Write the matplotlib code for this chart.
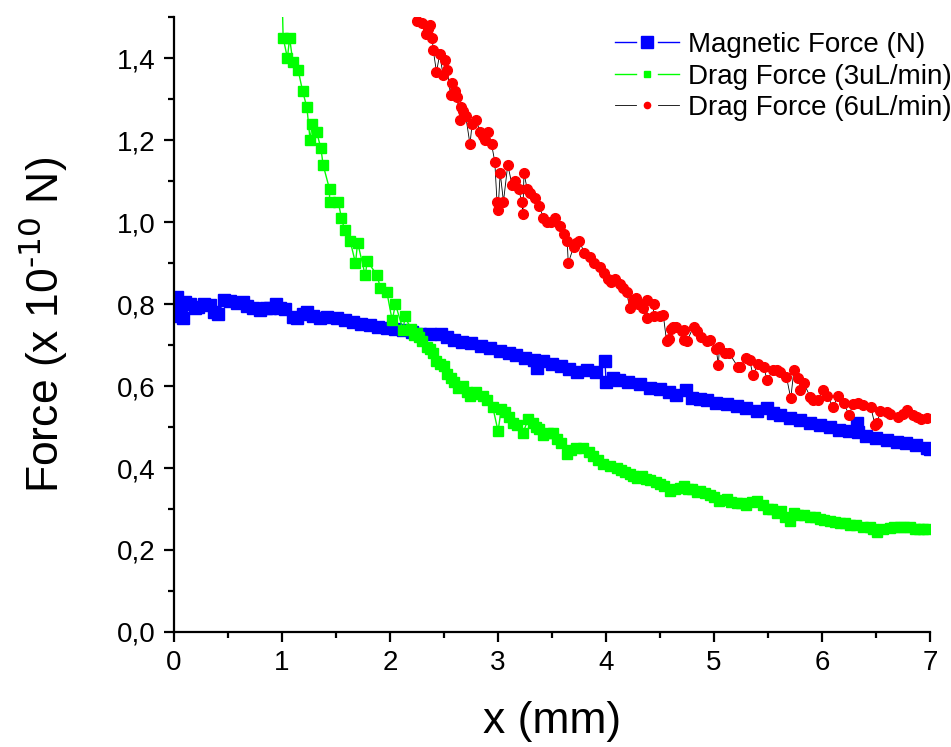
import numpy as np
import matplotlib
matplotlib.use("Agg")
import matplotlib.pyplot as plt
from matplotlib.lines import Line2D
from matplotlib.legend_handler import HandlerLine2D
from matplotlib.ticker import MultipleLocator, FuncFormatter

plt.rcParams['font.family'] = ['Liberation Sans', 'DejaVu Sans']
plt.rcParams['mathtext.default'] = 'regular'

# ----------------------------------------------
# Data
# ----------------------------------------------

x_mag = [0.00, 0.03, 0.05, 0.06, 0.08, 0.10, 0.15, 0.19, 0.22, 0.28, 0.33, 0.37,
         0.41, 0.46, 0.52, 0.58, 0.64, 0.68, 0.73, 0.80, 0.85, 0.89, 0.94, 0.98,
         1.03, 1.10, 1.14, 1.19, 1.23, 1.29, 1.35, 1.42, 1.51, 1.58, 1.66, 1.73,
         1.81, 1.89, 1.97, 2.05, 2.12, 2.20, 2.28, 2.37, 2.47, 2.53, 2.59, 2.67,
         2.75, 2.84, 2.93, 3.02, 3.10, 3.17, 3.25, 3.33, 3.36, 3.42, 3.50, 3.58,
         3.66, 3.73, 3.82, 3.91, 3.99, 4.00, 4.06, 4.12, 4.20, 4.31, 4.41, 4.50,
         4.58, 4.65, 4.74, 4.80, 4.87, 4.93, 5.02, 5.12, 5.21, 5.30, 5.40, 5.49,
         5.55, 5.61, 5.70, 5.80, 5.89, 5.98, 6.07, 6.16, 6.25, 6.32, 6.33, 6.41,
         6.50, 6.60, 6.69, 6.78, 6.87, 6.97, 7.00]
f_mag = [0.800, 0.817, 0.770, 0.798, 0.765, 0.805, 0.800, 0.790, 0.793, 0.800, 0.797, 0.781,
         0.775, 0.810, 0.808, 0.802, 0.805, 0.795, 0.790, 0.785, 0.790, 0.790, 0.800, 0.790,
         0.787, 0.769, 0.765, 0.775, 0.780, 0.772, 0.765, 0.768, 0.765, 0.760, 0.757, 0.752,
         0.749, 0.745, 0.741, 0.738, 0.737, 0.732, 0.728, 0.726, 0.728, 0.720, 0.712, 0.708,
         0.704, 0.698, 0.692, 0.686, 0.680, 0.675, 0.668, 0.664, 0.645, 0.660, 0.655, 0.650,
         0.642, 0.635, 0.638, 0.635, 0.660, 0.610, 0.620, 0.615, 0.610, 0.605, 0.595, 0.592,
         0.585, 0.578, 0.590, 0.572, 0.568, 0.565, 0.558, 0.555, 0.551, 0.547, 0.540, 0.546,
         0.535, 0.530, 0.523, 0.517, 0.510, 0.505, 0.500, 0.493, 0.490, 0.509, 0.487, 0.477,
         0.473, 0.468, 0.464, 0.460, 0.455, 0.448, 0.447]

x_drag3 = [0.99, 1.01, 1.05, 1.07, 1.10, 1.15, 1.19, 1.23, 1.26, 1.28, 1.32, 1.36,
           1.38, 1.44, 1.44, 1.52, 1.55, 1.58, 1.63, 1.68, 1.70, 1.77, 1.79, 1.88,
           1.91, 1.97, 2.02, 2.05, 2.12, 2.14, 2.19, 2.22, 2.25, 2.27, 2.30, 2.34,
           2.37, 2.40, 2.43, 2.46, 2.50, 2.53, 2.56, 2.59, 2.63, 2.68, 2.71, 2.74,
           2.77, 2.80, 2.86, 2.90, 2.95, 3.00, 3.03, 3.06, 3.10, 3.14, 3.18, 3.23,
           3.28, 3.32, 3.35, 3.38, 3.42, 3.46, 3.51, 3.55, 3.58, 3.64, 3.68, 3.72,
           3.79, 3.84, 3.88, 3.93, 3.97, 4.04, 4.10, 4.14, 4.18, 4.22, 4.25, 4.29,
           4.33, 4.37, 4.41, 4.46, 4.50, 4.54, 4.59, 4.64, 4.68, 4.72, 4.76, 4.80,
           4.84, 4.87, 4.92, 4.96, 5.00, 5.05, 5.08, 5.12, 5.16, 5.21, 5.25, 5.30,
           5.35, 5.40, 5.45, 5.50, 5.54, 5.58, 5.62, 5.66, 5.70, 5.74, 5.78, 5.83,
           5.89, 5.93, 5.98, 6.02, 6.07, 6.12, 6.17, 6.21, 6.26, 6.31, 6.38, 6.44,
           6.47, 6.51, 6.56, 6.63, 6.67, 6.72, 6.76, 6.81, 6.86, 6.90, 6.93, 6.97]
f_drag3 = [1.68, 1.45, 1.40, 1.45, 1.39, 1.37, 1.32, 1.28, 1.20, 1.24, 1.22, 1.18,
           1.14, 1.08, 1.05, 1.05, 1.01, 0.98, 0.955, 0.90, 0.95, 0.87, 0.905, 0.87,
           0.84, 0.83, 0.76, 0.80, 0.737, 0.77, 0.74, 0.725, 0.73, 0.72, 0.71, 0.695,
           0.69, 0.68, 0.66, 0.655, 0.65, 0.63, 0.62, 0.61, 0.595, 0.60, 0.585, 0.575,
           0.58, 0.585, 0.575, 0.565, 0.55, 0.49, 0.545, 0.537, 0.525, 0.51, 0.505, 0.485,
           0.52, 0.51, 0.50, 0.495, 0.48, 0.485, 0.485, 0.47, 0.46, 0.435, 0.445, 0.45,
           0.45, 0.44, 0.43, 0.42, 0.41, 0.405, 0.40, 0.395, 0.39, 0.385, 0.38, 0.375,
           0.38, 0.372, 0.37, 0.365, 0.36, 0.355, 0.345, 0.35, 0.352, 0.355, 0.35, 0.35,
           0.342, 0.345, 0.34, 0.335, 0.33, 0.32, 0.322, 0.325, 0.318, 0.315, 0.315, 0.31,
           0.318, 0.32, 0.31, 0.30, 0.30, 0.29, 0.295, 0.28, 0.27, 0.29, 0.285, 0.285,
           0.28, 0.28, 0.275, 0.272, 0.27, 0.268, 0.265, 0.265, 0.26, 0.26, 0.255, 0.255,
           0.25, 0.245, 0.252, 0.253, 0.255, 0.255, 0.256, 0.257, 0.252, 0.25, 0.25, 0.25]

x_drag6 = [2.25, 2.30, 2.33, 2.35, 2.37, 2.39, 2.40, 2.43, 2.46, 2.49, 2.51, 2.53,
           2.56, 2.57, 2.60, 2.62, 2.65, 2.66, 2.68, 2.70, 2.74, 2.76, 2.80, 2.83,
           2.86, 2.88, 2.91, 2.94, 2.97, 2.99, 3.00, 3.02, 3.05, 3.09, 3.13, 3.16,
           3.19, 3.22, 3.23, 3.24, 3.27, 3.30, 3.34, 3.38, 3.42, 3.45, 3.49, 3.53,
           3.57, 3.61, 3.64, 3.65, 3.70, 3.72, 3.75, 3.80, 3.85, 3.89, 3.94, 3.98,
           4.02, 4.05, 4.08, 4.13, 4.16, 4.19, 4.22, 4.25, 4.28, 4.30, 4.34, 4.38,
           4.38, 4.44, 4.44, 4.50, 4.53, 4.56, 4.58, 4.60, 4.62, 4.65, 4.70, 4.72,
           4.72, 4.75, 4.81, 4.84, 4.88, 4.93, 4.96, 5.02, 5.04, 5.05, 5.10, 5.14,
           5.22, 5.24, 5.30, 5.33, 5.36, 5.41, 5.46, 5.49, 5.55, 5.58, 5.61, 5.67,
           5.71, 5.74, 5.78, 5.80, 5.83, 5.89, 5.92, 5.96, 6.01, 6.05, 6.10, 6.15,
           6.20, 6.25, 6.29, 6.33, 6.38, 6.45, 6.49, 6.51, 6.54, 6.60, 6.63, 6.70,
           6.75, 6.79, 6.84, 6.88, 6.92, 6.97]
f_drag6 = [1.49, 1.485, 1.46, 1.47, 1.48, 1.45, 1.42, 1.366, 1.41, 1.36, 1.395, 1.37,
           1.31, 1.34, 1.32, 1.305, 1.25, 1.28, 1.27, 1.26, 1.19, 1.24, 1.25, 1.22,
           1.21, 1.20, 1.22, 1.19, 1.147, 1.05, 1.03, 1.12, 1.05, 1.14, 1.09, 1.10,
           1.08, 1.05, 1.02, 1.12, 1.08, 1.07, 1.06, 1.04, 1.01, 1.00, 1.00, 1.01,
           0.99, 0.97, 0.955, 0.90, 0.94, 0.95, 0.955, 0.925, 0.915, 0.90, 0.89, 0.875,
           0.86, 0.855, 0.86, 0.85, 0.84, 0.83, 0.79, 0.81, 0.815, 0.80, 0.79, 0.766,
           0.81, 0.80, 0.77, 0.77, 0.773, 0.71, 0.716, 0.74, 0.745, 0.745, 0.735, 0.712,
           0.737, 0.71, 0.745, 0.735, 0.72, 0.71, 0.712, 0.69, 0.651, 0.696, 0.68, 0.68,
           0.647, 0.647, 0.668, 0.663, 0.627, 0.655, 0.647, 0.615, 0.64, 0.64, 0.635, 0.623,
           0.57, 0.64, 0.62, 0.59, 0.607, 0.574, 0.565, 0.566, 0.59, 0.575, 0.55, 0.575,
           0.558, 0.53, 0.557, 0.558, 0.553, 0.55, 0.505, 0.509, 0.54, 0.537, 0.533, 0.525,
           0.533, 0.541, 0.53, 0.525, 0.52, 0.521]

labels = ["Magnetic Force (N)", "Drag Force (3uL/min)", "Drag Force (6uL/min)"]


# legend handle like "—■—" : line, gap, marker, gap, line
class GapHandler(HandlerLine2D):
    def __init__(self, ms, **kw):
        super().__init__(**kw)
        self.ms = ms

    def create_artists(self, legend, orig_handle, xdescent, ydescent,
                       width, height, fontsize, trans):
        y = height / 2 - ydescent
        seg = 0.33 * width
        x0 = -xdescent
        l1 = Line2D([x0, x0 + seg], [y, y])
        l2 = Line2D([x0 + width - seg, x0 + width], [y, y])
        m = Line2D([x0 + width / 2], [y])
        for a in (l1, l2, m):
            self.update_prop(a, orig_handle, legend)
            a.set_transform(trans)
        l1.set_marker("None")
        l2.set_marker("None")
        m.set_linestyle("None")
        m.set_markersize(self.ms)
        return [l1, l2, m]


# ----------------------------------------------
# Plot
# ----------------------------------------------

fig = plt.figure(figsize=(9.51, 7.47), dpi=100)
ax = fig.add_axes([0.183, 0.154, 0.795, 0.823])

l_mag, = ax.plot(x_mag, f_mag, color="#0000FF", lw=1.0, marker="s", ms=9,
                 mfc="#0000FF", mec="#0000FF", label=labels[0])
l_d3, = ax.plot(x_drag3, f_drag3, color="#00FF00", lw=1.0, marker="s", ms=7,
                mfc="#00FF00", mec="#00FF00", label=labels[1])
l_d6, = ax.plot(x_drag6, f_drag6, color="black", lw=0.6, marker="o", ms=7,
                mfc="#FF0000", mec="#FF0000", label=labels[2])

ax.set_xlim(0, 7)
ax.set_ylim(0, 1.5)

ax.xaxis.set_major_locator(MultipleLocator(1))
ax.xaxis.set_minor_locator(MultipleLocator(0.5))
ax.yaxis.set_major_locator(MultipleLocator(0.2))
ax.yaxis.set_minor_locator(MultipleLocator(0.1))
ax.yaxis.set_major_formatter(FuncFormatter(lambda v, p: ("%.1f" % v).replace(".", ",")))

for s in ["top", "right"]:
    ax.spines[s].set_visible(False)
for s in ["left", "bottom"]:
    ax.spines[s].set_linewidth(1.6)

ax.tick_params(which="major", direction="out", length=7, width=1.6, labelsize=20, pad=6)
ax.tick_params(which="minor", direction="out", length=4, width=1.6)

ax.set_xlabel("x (mm)", fontsize=32, labelpad=18)
ax.set_ylabel(r"Force (x 10$^{\text{-10}}$ N)", fontsize=32, labelpad=34)

ax.legend(loc="upper right", bbox_to_anchor=(1.012, 0.972), bbox_transform=fig.transFigure,
          frameon=False, fontsize=20, handlelength=2.3, handletextpad=0.3,
          labelspacing=0.2, borderaxespad=0,
          handler_map={l_mag: GapHandler(8), l_d3: GapHandler(4.5), l_d6: GapHandler(4.5)})

fig.savefig("out.png", dpi=100)
